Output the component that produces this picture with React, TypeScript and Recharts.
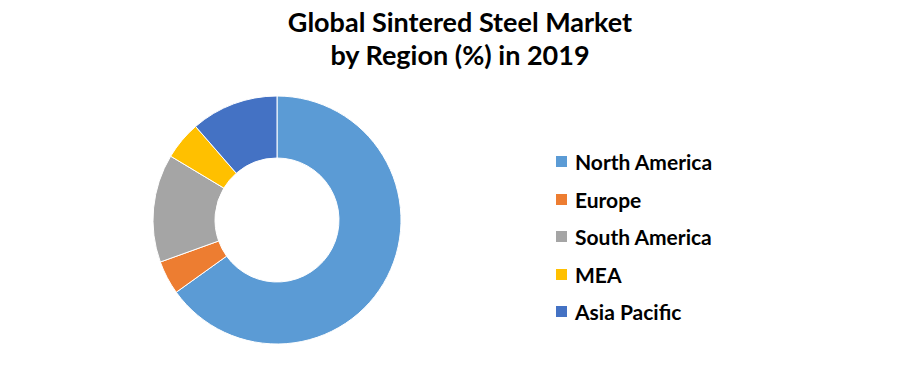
import { Cell, Legend, Pie, PieChart } from "recharts";

const regions = ["North America", "Europe", "South America", "MEA", "Asia Pacific"];
const shares = [65.1, 4.4, 14.1, 5.0, 11.4];
const colors = ["#5B9BD5", "#ED7D31", "#A5A5A5", "#FFC000", "#4472C4"];

const data = regions.map((name, i) => ({ name, value: shares[i] }));

const font = "Lato, Carlito, 'Open Sans', sans-serif";

function RegionLegend() {
  return (
    <div style={{ fontFamily: font, fontWeight: 700, fontSize: 21, color: "#000" }}>
      {regions.map((name, i) => (
        <div key={name} style={{ display: "flex", alignItems: "center", height: 37.5 }}>
          <span
            style={{
              display: "inline-block",
              width: 11,
              height: 11,
              background: colors[i],
              marginRight: 8
            }}
          />
          <span>{name}</span>
        </div>
      ))}
    </div>
  );
}

export default function App() {
  return (
    <div
      style={{
        position: "absolute",
        left: 0,
        top: 0,
        width: 897,
        height: 384,
        background: "#fff"
      }}
    >
      <div
        style={{
          position: "absolute",
          left: 0,
          top: 5,
          width: 920,
          textAlign: "center",
          fontFamily: font,
          fontWeight: 700,
          fontSize: 27,
          lineHeight: "33px",
          color: "#000"
        }}
      >
        Global Sintered Steel Market
        <br />
        by Region (%) in 2019
      </div>
      <PieChart width={897} height={384} margin={{ top: 0, right: 0, bottom: 0, left: 0 }}>
        <Pie
          data={data}
          dataKey="value"
          nameKey="name"
          cx={277}
          cy={220}
          innerRadius={62}
          outerRadius={124}
          startAngle={90}
          endAngle={-270}
          stroke="#fff"
          strokeWidth={1}
          isAnimationActive={false}
        >
          {data.map((d, i) => (
            <Cell key={d.name} fill={colors[i]} />
          ))}
        </Pie>
        <Legend
          layout="vertical"
          content={() => <RegionLegend />}
          wrapperStyle={{ position: "absolute", left: 556, top: 143, width: 220 }}
        />
      </PieChart>
    </div>
  );
}
